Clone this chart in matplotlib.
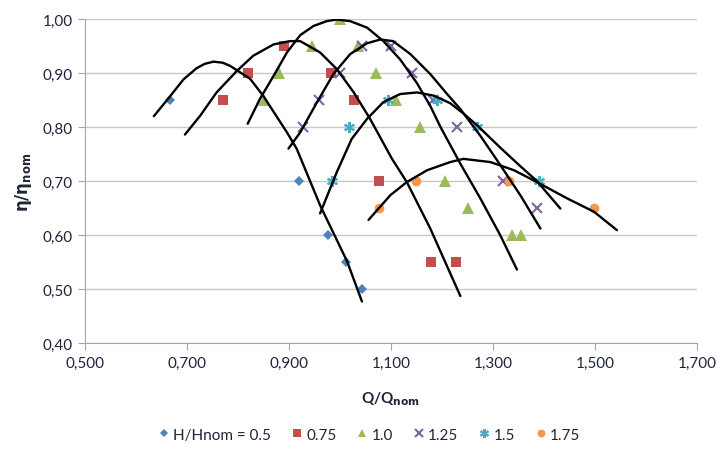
import numpy as np
import matplotlib.pyplot as plt

# ---------------------------------------------------------------------------
# measured points: Q/Qnom vs eta/eta_nom for several H/Hnom
labels = ['H/Hnom = 0.5', '0.75', '1.0', '1.25', '1.5', '1.75']

q_05 = [0.667, 0.920, 0.976, 1.012, 1.043]
e_05 = [0.85, 0.70, 0.60, 0.55, 0.50]

q_075 = [0.770, 0.820, 0.890, 0.982, 1.027, 1.076, 1.178, 1.227]
e_075 = [0.85, 0.90, 0.95, 0.90, 0.85, 0.70, 0.55, 0.55]

q_10 = [0.851, 0.880, 0.945, 1.000, 1.035, 1.070, 1.110, 1.157, 1.206, 1.251, 1.337, 1.355]
e_10 = [0.85, 0.90, 0.95, 1.00, 0.95, 0.90, 0.85, 0.80, 0.70, 0.65, 0.60, 0.60]

q_125 = [0.927, 0.959, 1.000, 1.043, 1.100, 1.141, 1.182, 1.229, 1.320, 1.386]
e_125 = [0.80, 0.85, 0.90, 0.95, 0.95, 0.90, 0.85, 0.80, 0.70, 0.65]

q_15 = [0.984, 1.018, 1.094, 1.190, 1.269, 1.390]
e_15 = [0.70, 0.80, 0.85, 0.85, 0.80, 0.70]

q_175 = [1.076, 1.149, 1.331, 1.498]
e_175 = [0.65, 0.70, 0.70, 0.65]

# hand-drawn trend curves
cq_05 = [0.635, 0.667, 0.693, 0.719, 0.735, 0.752, 0.770, 0.785, 0.824, 0.850, 0.896,
         0.915, 0.961, 1.014, 1.043]
ce_05 = [0.820, 0.857, 0.888, 0.909, 0.917, 0.921, 0.919, 0.913, 0.889, 0.857, 0.790,
         0.760, 0.655, 0.551, 0.477]

cq_075 = [0.696, 0.726, 0.758, 0.798, 0.830, 0.870, 0.902, 0.922, 0.961, 0.994, 1.027,
          1.059, 1.102, 1.131, 1.177, 1.236]
ce_075 = [0.786, 0.821, 0.864, 0.904, 0.932, 0.953, 0.959, 0.959, 0.938, 0.907, 0.864,
          0.815, 0.741, 0.698, 0.612, 0.487]

cq_10 = [0.819, 0.843, 0.870, 0.896, 0.922, 0.948, 0.974, 0.994, 1.020, 1.053, 1.085,
         1.118, 1.151, 1.177, 1.197, 1.236, 1.275, 1.314, 1.347]
ce_10 = [0.806, 0.852, 0.895, 0.938, 0.970, 0.987, 0.996, 0.999, 0.996, 0.984, 0.959,
         0.925, 0.881, 0.839, 0.800, 0.732, 0.668, 0.600, 0.536]

cq_125 = [0.899, 0.922, 0.955, 0.987, 1.020, 1.053, 1.079, 1.104, 1.138, 1.177, 1.210,
          1.236, 1.275, 1.314, 1.354, 1.393]
ce_125 = [0.760, 0.790, 0.846, 0.898, 0.935, 0.955, 0.962, 0.959, 0.935, 0.898, 0.861,
          0.833, 0.784, 0.730, 0.673, 0.612]

cq_15 = [0.961, 0.994, 1.023, 1.053, 1.085, 1.118, 1.151, 1.184, 1.216, 1.242, 1.269,
         1.314, 1.354, 1.386, 1.432]
ce_15 = [0.640, 0.717, 0.778, 0.815, 0.846, 0.861, 0.864, 0.858, 0.844, 0.825, 0.803,
         0.762, 0.727, 0.700, 0.649]

cq_175 = [1.056, 1.099, 1.131, 1.171, 1.216, 1.242, 1.295, 1.341, 1.386, 1.445, 1.498, 1.543]
ce_175 = [0.628, 0.674, 0.698, 0.720, 0.735, 0.741, 0.735, 0.720, 0.698, 0.668, 0.643, 0.609]

series_q = [q_05, q_075, q_10, q_125, q_15, q_175]
series_e = [e_05, e_075, e_10, e_125, e_15, e_175]
curves_q = [cq_05, cq_075, cq_10, cq_125, cq_15, cq_175]
curves_e = [ce_05, ce_075, ce_10, ce_125, ce_15, ce_175]

colors = ['#4F81BD', '#C0504D', '#9BBB59', '#8064A2', '#4BACC6', '#F79646']
markers = ['D', 's', '^', 'x', (6, 2, 0), 'o']
msizes = [5.5, 7.5, 8, 7, 8, 7]

txt_color = '#1F2538'
plt.rcParams['font.family'] = ['Lato', 'DejaVu Sans']

#==============================================================================
fig = plt.figure(figsize=(7.22, 4.52), dpi=100)
ax = fig.add_axes([0.1177, 0.2389, 0.8477, 0.7169])

for i in range(6):
    ax.plot(curves_q[i], curves_e[i], color='black', linewidth=1.7,
            solid_joinstyle='round', solid_capstyle='round', zorder=3)

for i in range(6):
    mk = markers[i]
    lw = 1.5 if mk in ('x', (6, 2, 0)) else 0
    ax.plot(series_q[i], series_e[i], linestyle='none', marker=mk,
            markersize=msizes[i], color=colors[i], markeredgewidth=lw,
            label=labels[i], zorder=2)

# axes limits / ticks
xt = np.arange(0.5, 1.71, 0.2)
yt = np.arange(0.4, 1.01, 0.1)
ax.set_xlim(0.5, 1.7)
ax.set_ylim(0.4, 1.0)
ax.set_xticks(xt)
ax.set_yticks(yt)
ax.set_xticklabels(['{:.3f}'.format(v).replace('.', ',') for v in xt])
ax.set_yticklabels(['{:.2f}'.format(v).replace('.', ',') for v in yt])
ax.tick_params(axis='both', labelsize=11, labelcolor=txt_color, length=5,
               color='#a6a6a6', pad=4)

# grid
ax.yaxis.grid(True, color='#c8c8c8', linewidth=1)
ax.set_axisbelow(True)
for s in ['top', 'right']:
    ax.spines[s].set_visible(False)
for s in ['left', 'bottom']:
    ax.spines[s].set_color('#a6a6a6')

# labels
ax.set_xlabel(r'Q/Q$_{\mathbf{nom}}$', fontsize=11, fontweight='bold',
              labelpad=14, color=txt_color)
ax.set_ylabel(r'$\mathbf{\eta/\eta_{nom}}$', fontsize=12, fontweight='bold',
              labelpad=6, color=txt_color)

# legend
leg = fig.legend(loc='lower center', ncol=6, frameon=False, fontsize=11,
                 bbox_to_anchor=(0.51, -0.01), handletextpad=0.1,
                 columnspacing=1.2, markerscale=0.8, handlelength=1)
for t in leg.get_texts():
    t.set_color(txt_color)

plt.savefig('out.png', dpi=100)
